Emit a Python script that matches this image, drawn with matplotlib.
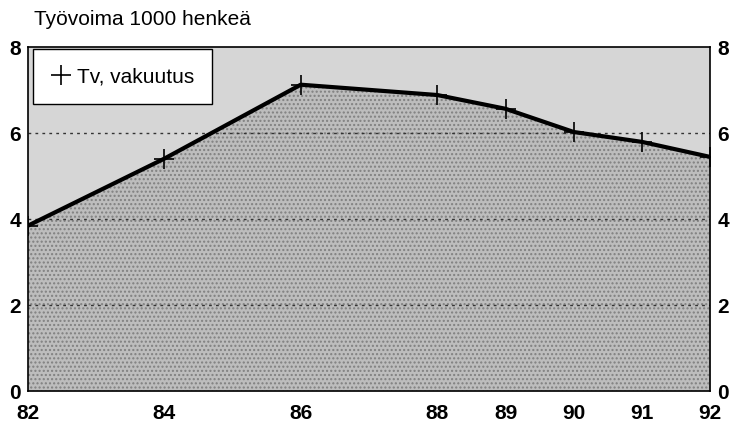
import matplotlib.pyplot as plt

# labour force, thousands of persons
years = [82, 84, 86, 88, 89, 90, 91, 92]
tv_vakuutus = [3.84, 5.40, 7.12, 6.88, 6.56, 6.02, 5.79, 5.44]
year_labels = ["82", "84", "86", "88", "89", "90", "91", "92"]
y_ticks = [0, 2, 4, 6, 8]

plt.rcParams["font.family"] = ["Liberation Sans", "DejaVu Sans"]

fig = plt.figure(figsize=(7.3, 4.35), dpi=100)
ax = fig.add_axes([0.038, 0.099, 0.935, 0.791])
ax.set_facecolor("#d6d6d6")

# shaded area under the series
ax.fill_between(years, tv_vakuutus, 0, color="#bdbdbd", lw=0, zorder=1)
ax.fill_between(years, tv_vakuutus, 0, facecolor="none", edgecolor="#808080",
                hatch="....", lw=0, zorder=1)

for v in [2, 4, 6]:
    ax.axhline(v, color="#333333", lw=1, ls=(0, (2, 3)), zorder=2)

ax.plot(years, tv_vakuutus, color="black", lw=3, marker="+", ms=14, mew=1.2,
        label="Tv, vakuutus", zorder=3)

ax.set_xlim(82, 92)
ax.set_ylim(0, 8)
ax.set_xticks(years)
ax.set_xticklabels(year_labels)
ax.set_yticks(y_ticks)
ax.tick_params(axis="x", length=0, labelsize=15, pad=9)
ax.tick_params(axis="y", length=0, labelsize=15, pad=5, labelright=True)
for lab in ax.get_xticklabels():
    lab.set_fontweight("bold")
for tick in ax.yaxis.get_major_ticks():
    tick.label1.set_fontweight("bold")
    tick.label2.set_fontweight("bold")

for s in ax.spines.values():
    s.set_linewidth(1.2)
    s.set_color("black")

leg = ax.legend(loc="upper left", bbox_to_anchor=(0.007, 0.993), frameon=True,
                fancybox=False, fontsize=15, handlelength=1.0, handletextpad=0.3,
                borderpad=0.85, borderaxespad=0.0)
leg.get_frame().set_edgecolor("black")
leg.get_frame().set_linewidth(1.0)
leg.get_frame().set_alpha(1)
leg.legend_handles[0].set_linestyle("none")

fig.text(0.047, 0.955, "Työvoima 1000 henkeä", fontsize=15, ha="left", va="center")

fig.savefig("out.png", dpi=100)
